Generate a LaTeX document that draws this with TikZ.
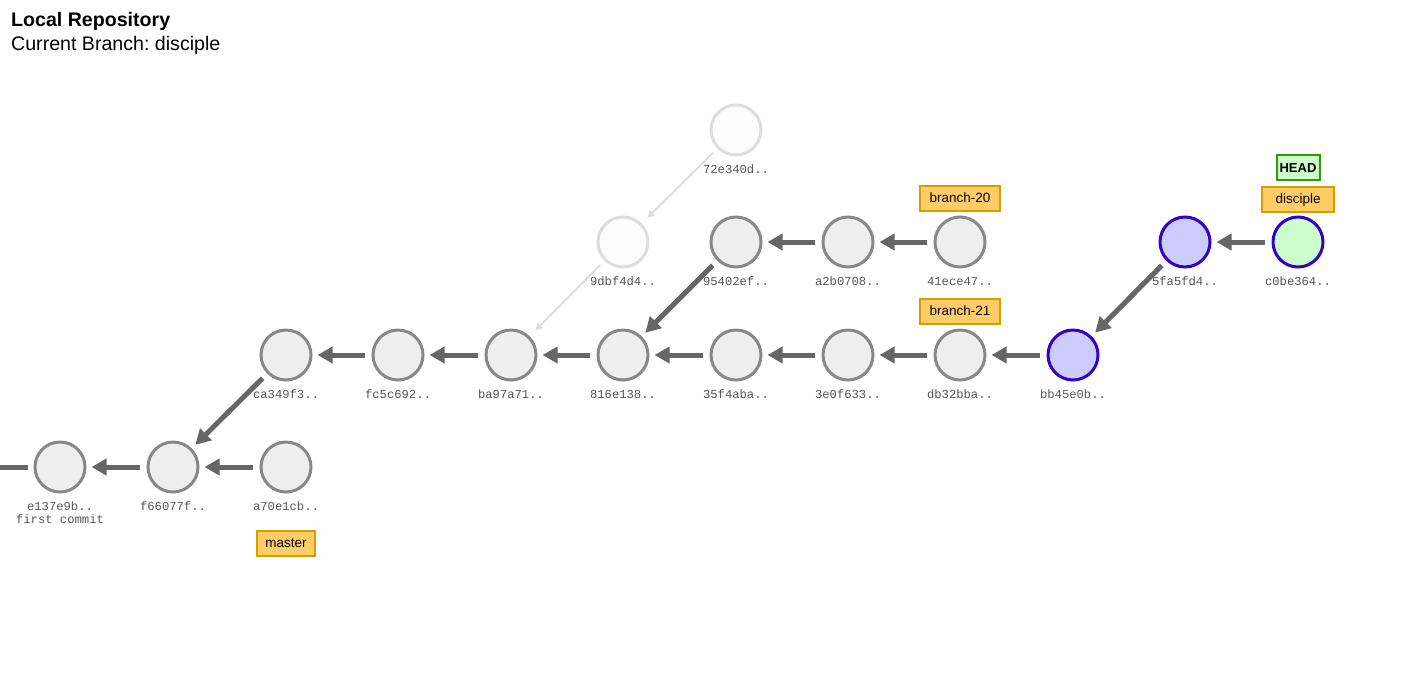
\documentclass[tikz,border=0pt]{standalone}
\usepackage{fontspec}
\setmainfont{Liberation Sans}
\newfontfamily\monof{Liberation Mono}
\usetikzlibrary{arrows.meta}
\frenchspacing
\definecolor{cgray}{RGB}{136,136,136}
\definecolor{cfill}{RGB}{238,238,238}
\definecolor{cblue}{RGB}{51,0,204}
\definecolor{cbluefill}{RGB}{204,204,255}
\definecolor{cgreenfill}{RGB}{204,255,204}
\definecolor{fadedraw}{RGB}{221,221,221}
\definecolor{fadefill}{RGB}{252,252,252}
\definecolor{arrowgray}{RGB}{102,102,102}
\definecolor{labelgray}{RGB}{85,85,85}
\definecolor{branchfill}{RGB}{255,204,102}
\definecolor{branchdraw}{RGB}{212,160,0}
\definecolor{headdraw}{RGB}{51,153,0}
\begin{document}
\begin{tikzpicture}[x=1pt,y=-1pt,
  commit/.style={circle, minimum size=50pt, inner sep=0pt, line width=3pt, draw=cgray, fill=cfill},
  bluecommit/.style={commit, draw=cblue, fill=cbluefill},
  headcommit/.style={commit, draw=cblue, fill=cgreenfill},
  fadecommit/.style={commit, draw=fadedraw, fill=fadefill},
  hashlbl/.style={font=\monof\fontsize{12.2}{14}\selectfont, text=labelgray, inner sep=0pt},
  parent/.style={draw=arrowgray, line width=5pt, -{Triangle[length=15pt,width=16pt]}, shorten >=5pt, shorten <=6.5pt},
  fadeparent/.style={draw=fadedraw, line width=2pt, -{Triangle[length=7pt,width=7pt]}, shorten >=8pt, shorten <=6pt},
  branchbox/.style={draw=branchdraw, fill=branchfill, line width=2pt, minimum height=25pt, inner sep=0pt, text height=9.7pt, text depth=0pt, font=\fontsize{13.5}{16}\selectfont},
  headbox/.style={draw=headdraw, fill=cgreenfill, line width=2pt, minimum height=25pt, minimum width=43pt, inner sep=0pt, text height=9.4pt, text depth=0pt, font=\bfseries\fontsize{13}{16}\selectfont}
]
\useasboundingbox (0,0) rectangle (1408,697);

% title
\node[anchor=base west, inner sep=0pt, font=\bfseries\fontsize{19.6}{22}\selectfont] (title) at (11,26.7) {Local Repository};
\node[anchor=base west, inner sep=0pt, font=\fontsize{19.6}{22}\selectfont] (subtitle) at (11,50) {Current Branch: disciple};

% commits
\node[commit] (e137) at (60,467) {};
\node[commit] (f660) at (173,467) {};
\node[commit] (a70e) at (286,467) {};
\node[commit] (ca34) at (286,355) {};
\node[commit] (fc5c) at (398,355) {};
\node[commit] (ba97) at (511,355) {};
\node[commit] (816e) at (623,355) {};
\node[commit] (35f4) at (736,355) {};
\node[commit] (3e0f) at (848,355) {};
\node[commit] (db32) at (960,355) {};
\node[bluecommit] (bb45) at (1073,355) {};
\node[fadecommit] (9dbf) at (623,242) {};
\node[commit] (9540) at (736,242) {};
\node[commit] (a2b0) at (848,242) {};
\node[commit] (41ec) at (960,242) {};
\node[bluecommit] (5fa5) at (1185,242) {};
\node[headcommit] (c0be) at (1298,242) {};
\node[fadecommit] (72e3) at (736,130) {};

% hash labels
\node[hashlbl] (l-e137) at (60,506.5) {e137e9b..};
\node[hashlbl] (l-e137b) at (60,519.5) {first commit};
\node[hashlbl] (l-f660) at (173,506.5) {f66077f..};
\node[hashlbl] (l-a70e) at (286,506.5) {a70e1cb..};
\node[hashlbl] (l-ca34) at (286,394) {ca349f3..};
\node[hashlbl] (l-fc5c) at (398,394) {fc5c692..};
\node[hashlbl] (l-ba97) at (511,394) {ba97a71..};
\node[hashlbl] (l-816e) at (623,394) {816e138..};
\node[hashlbl] (l-35f4) at (736,394) {35f4aba..};
\node[hashlbl] (l-3e0f) at (848,394) {3e0f633..};
\node[hashlbl] (l-db32) at (960,394) {db32bba..};
\node[hashlbl] (l-bb45) at (1073,394) {bb45e0b..};
\node[hashlbl] (l-9dbf) at (623,281.5) {9dbf4d4..};
\node[hashlbl] (l-9540) at (736,281.5) {95402ef..};
\node[hashlbl] (l-a2b0) at (848,281.5) {a2b0708..};
\node[hashlbl] (l-41ec) at (960,281.5) {41ece47..};
\node[hashlbl] (l-5fa5) at (1185,281.5) {5fa5fd4..};
\node[hashlbl] (l-c0be) at (1298,281.5) {c0be364..};
\node[hashlbl] (l-72e3) at (736,169) {72e340d..};

% branch labels
\node[branchbox, minimum width=58pt] (b-master) at (286,543) {master};
\node[branchbox, minimum width=80pt] (b-20) at (960,198) {branch-20};
\node[branchbox, minimum width=80pt] (b-21) at (960,311) {branch-21};
\node[branchbox, minimum width=72pt] (b-disc) at (1298,199) {disciple};
\node[headbox] (b-head) at (1298,167.5) {HEAD};

% parent links
\coordinate (offleft) at (0,467);
\draw[draw=arrowgray, line width=5pt, shorten >=5.5pt] (offleft) -- (e137);
\draw[parent] (f660) -- (e137);
\draw[parent] (a70e) -- (f660);
\draw[parent] (ca34) -- (f660);
\draw[parent] (fc5c) -- (ca34);
\draw[parent] (ba97) -- (fc5c);
\draw[parent] (816e) -- (ba97);
\draw[parent] (35f4) -- (816e);
\draw[parent] (3e0f) -- (35f4);
\draw[parent] (db32) -- (3e0f);
\draw[parent] (bb45) -- (db32);
\draw[parent] (9540) -- (816e);
\draw[parent] (a2b0) -- (9540);
\draw[parent] (41ec) -- (a2b0);
\draw[parent] (5fa5) -- (bb45);
\draw[parent] (c0be) -- (5fa5);
\draw[fadeparent] (72e3) -- (9dbf);
\draw[fadeparent] (9dbf) -- (ba97);
\end{tikzpicture}
\end{document}
